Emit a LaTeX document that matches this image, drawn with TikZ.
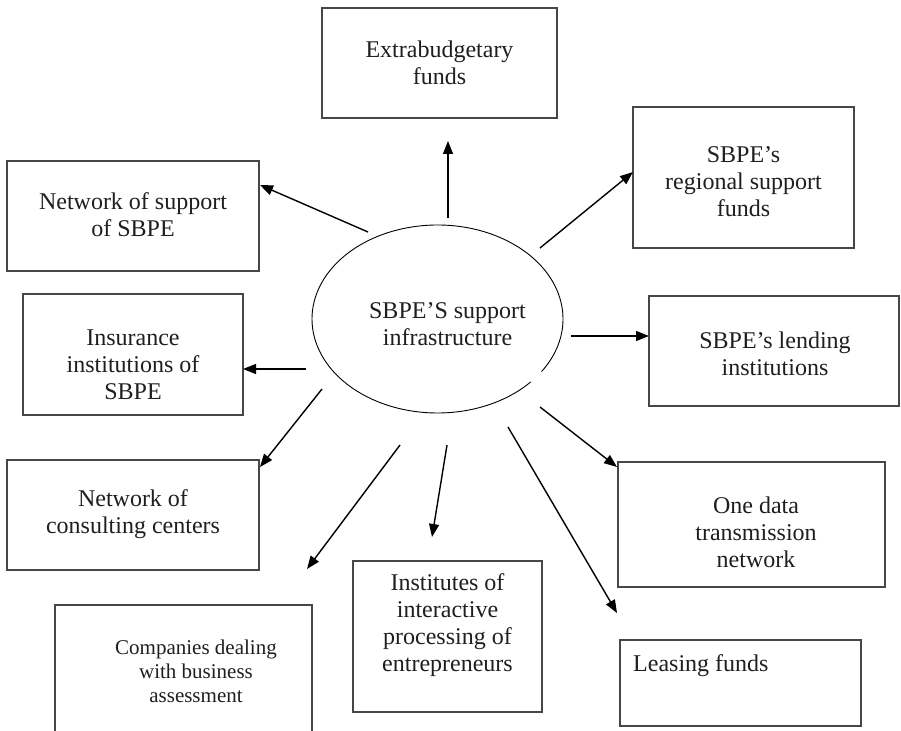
\documentclass[tikz,border=0pt]{standalone}
\usepackage{fontspec}
\setmainfont{Liberation Serif}
\usetikzlibrary{arrows.meta,shapes.geometric}
\begin{document}
\begin{tikzpicture}[x=1pt,y=-1pt,
  box/.style={draw=black!72,line width=1.3pt,inner sep=0pt,rectangle},
  lbl/.style={align=center,inner sep=0pt,font=\fontsize{24}{27}\selectfont,text=black!88},
  slbl/.style={align=center,inner sep=0pt,font=\fontsize{21}{24}\selectfont,text=black!88},
  arr/.style={line width=1.4pt,-{Triangle[length=13pt,width=10pt]}},
  hubline/.style={line width=0.9pt}]
\useasboundingbox (0,0) rectangle (901,730);
\clip (0,0) rectangle (901,730);
\fill[white] (0,0) rectangle (901,730);
% boxes
\node[box,minimum width=235,minimum height=110] (ext) at (439.5,63) {};
\node[box,minimum width=252,minimum height=110] (nsup) at (133,216) {};
\node[box,minimum width=221,minimum height=141] (reg) at (743.5,177.5) {};
\node[box,minimum width=250,minimum height=110] (lend) at (774,351) {};
\node[box,minimum width=220,minimum height=121] (ins) at (133,354.5) {};
\node[box,minimum width=252,minimum height=110] (cons) at (133,515) {};
\node[box,minimum width=189,minimum height=151] (inst) at (447.5,636.5) {};
\node[box,minimum width=267,minimum height=125] (one) at (751.5,524.5) {};
\node[box,minimum width=257,minimum height=145] (comp) at (183.5,677.5) {};
\node[box,minimum width=241,minimum height=86] (leas) at (740.5,683) {};
% labels
\node[lbl] (extT) at (439.5,62.5) {Extrabudgetary\\funds};
\node[lbl] (nsupT) at (133,215) {Network of support\\of SBPE};
\node[lbl] (regT) at (743.5,181.5) {SBPE’s\\regional support\\funds};
\node[lbl] (lendT) at (775,354) {SBPE’s lending\\institutions};
\node[lbl] (insT) at (133,364.5) {Insurance\\institutions of\\SBPE};
\node[lbl] (consT) at (133,514) {Network of\\consulting centers};
\node[lbl] (instT) at (447.5,625) {Institutes of\\interactive\\processing of\\entrepreneurs};
\node[lbl] (oneT) at (756,532.5) {One data\\transmission\\network};
\node[slbl] (compT) at (196,671) {Companies dealing\\with business\\assessment};
\node[lbl,anchor=base west] (leasT) at (633,671) {Leasing funds};
% hub
\node[ellipse,minimum width=251,minimum height=188,inner sep=0pt] (hub) at (437.5,319) {};
\draw[hubline] ([shift={(-34:125.5pt and 94pt)}]hub.center) arc[start angle=-34,end angle=318,x radius=125.5pt,y radius=94pt];
\node[lbl] (hubT) at (447.5,324.5) {SBPE’S support\\infrastructure};
% connector ends
\coordinate (s1) at (448,218);  \coordinate (e1) at (448,141);
\coordinate (s2) at (368,232);  \coordinate (e2) at (260,185);
\coordinate (s3) at (540,248);  \coordinate (e3) at (633,172);
\coordinate (s4) at (571,336);  \coordinate (e4) at (649,336);
\coordinate (s5) at (306,369);  \coordinate (e5) at (243,369);
\coordinate (s6) at (322,389);  \coordinate (e6) at (260,467);
\coordinate (s7) at (400,445);  \coordinate (e7) at (307,569);
\coordinate (s8) at (447,445);  \coordinate (e8) at (432,537);
\coordinate (s9) at (508,427);  \coordinate (e9) at (617,613);
\coordinate (s10) at (540,407); \coordinate (e10) at (617,467);
\draw[arr] (s1) -- (e1);
\draw[arr] (s2) -- (e2);
\draw[arr] (s3) -- (e3);
\draw[arr] (s4) -- (e4);
\draw[arr] (s5) -- (e5);
\draw[arr] (s6) -- (e6);
\draw[arr] (s7) -- (e7);
\draw[arr] (s8) -- (e8);
\draw[arr] (s9) -- (e9);
\draw[arr] (s10) -- (e10);
\end{tikzpicture}
\end{document}
